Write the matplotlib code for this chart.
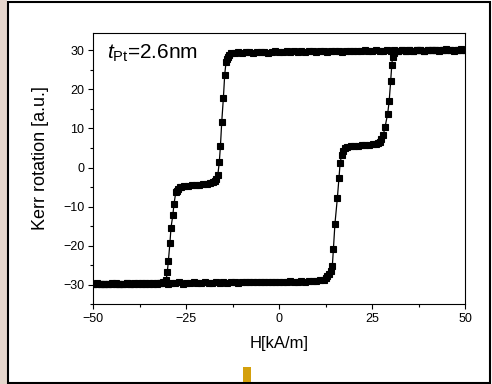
import numpy as np
import matplotlib.pyplot as plt
from matplotlib.patches import Rectangle
from matplotlib.ticker import MultipleLocator

plt.rcParams['font.family'] = ['Liberation Sans', 'DejaVu Sans']
plt.rcParams['mathtext.fontset'] = 'custom'
plt.rcParams['mathtext.rm'] = 'Liberation Sans'
plt.rcParams['mathtext.it'] = 'Liberation Sans:italic'

# descending branch (field swept from +50 to -50 kA/m)
h_down = [50, 49, 48, 47, 46, 45, 44, 43, 42, 41,
          40, 39, 38, 37, 36, 35, 34, 33, 32, 31,
          30, 29, 28, 27, 26, 25, 24, 23, 22, 21,
          20, 19, 18, 17, 16, 15, 14, 13, 12, 11,
          10, 9, 8, 7, 6, 5, 4, 3, 2, 1,
          0, -1, -2, -3, -4, -5, -6, -7, -8, -9,
          -10, -11, -12, -13, -13.5, -13.8, -14.0, -14.3, -14.65, -15.0,
          -15.45, -15.8, -16.1, -16.5, -16.9, -17.3, -17.8, -18.5, -19.5, -20.5,
          -21.5, -22.5, -23.5, -24.5, -25.5, -26.3, -26.8, -27.2, -27.5, -27.8,
          -28.3, -28.6, -29.1, -29.4, -29.8, -30.1, -30.4, -30.8, -31.3, -32,
          -33, -34, -35, -36, -37, -38, -39, -40, -41, -42,
          -43, -44, -45, -46, -47, -48, -49, -50]
kerr_down = [30.2, 30.0, 30.1, 29.9, 30.2, 30.0, 30.1, 29.9, 30.0, 30.2,
             30.0, 29.9, 30.1, 30.0, 29.8, 30.1, 29.9, 30.0, 29.8, 30.0,
             29.9, 30.1, 29.8, 29.9, 30.0, 29.7, 29.9, 30.0, 29.8, 29.9,
             29.7, 29.9, 29.8, 29.6, 29.9, 29.7, 29.8, 29.6, 29.8, 29.7,
             29.6, 29.8, 29.7, 29.5, 29.8, 29.6, 29.7, 29.5, 29.7, 29.6,
             29.5, 29.7, 29.6, 29.4, 29.6, 29.5, 29.6, 29.4, 29.5, 29.6,
             29.4, 29.5, 29.3, 29.2, 28.8, 28.3, 27.7, 26.9, 23.8, 17.9,
             11.7, 5.5, 1.5, -1.9, -2.9, -3.4, -3.8, -4.0, -4.2, -4.3,
             -4.5, -4.4, -4.6, -4.7, -4.8, -4.9, -5.1, -5.5, -5.9, -6.2,
             -9.4, -12.1, -15.4, -19.4, -23.8, -26.8, -28.7, -29.2, -29.4, -29.5,
             -29.5, -29.7, -29.6, -29.8, -29.5, -29.7, -29.6, -29.8, -29.6, -29.7,
             -29.9, -29.6, -29.8, -29.7, -29.9, -29.7, -29.8, -29.9]

# ascending branch (field swept from -50 to +50 kA/m)
h_up = [-50, -49, -48, -47, -46, -45, -44, -43, -42, -41,
        -40, -39, -38, -37, -36, -35, -34, -33, -32, -31,
        -30, -29, -28, -27, -26, -25, -24, -23, -22, -21,
        -20, -19, -18, -17, -16, -15, -14, -13, -12, -11,
        -10, -9, -8, -7, -6, -5, -4, -3, -2, -1,
        0, 1, 2, 3, 4, 5, 6, 7, 8, 9,
        10, 11, 12, 12.5, 13.0, 13.5, 13.9, 14.3, 14.6, 15.0,
        15.65, 16.1, 16.4, 16.8, 17.2, 17.7, 18.3, 19.2, 20.2, 21.2,
        22.2, 23.2, 24.2, 25.2, 26.0, 26.6, 27.1, 27.5, 28.0, 28.5,
        29.2, 29.6, 30.0, 30.3, 30.5, 30.8, 31.3, 32, 33, 34,
        35, 36, 37, 38, 39, 40, 41, 42, 43, 44,
        45, 46, 47, 48, 49, 50]
kerr_up = [-29.8, -29.6, -29.9, -29.7, -29.8, -29.6, -29.9, -29.7, -29.8, -29.6,
           -29.7, -29.8, -29.6, -29.7, -29.5, -29.8, -29.6, -29.7, -29.5, -29.6,
           -29.7, -29.5, -29.6, -29.4, -29.7, -29.5, -29.6, -29.4, -29.6, -29.5,
           -29.4, -29.6, -29.5, -29.3, -29.5, -29.4, -29.5, -29.3, -29.4, -29.5,
           -29.3, -29.4, -29.2, -29.4, -29.3, -29.4, -29.2, -29.3, -29.4, -29.2,
           -29.3, -29.2, -29.3, -29.1, -29.3, -29.2, -29.1, -29.2, -29.0, -29.1,
           -29.0, -28.9, -28.7, -28.3, -27.8, -27.2, -26.5, -25.3, -20.8, -14.5,
           -7.9, -2.6, 1.1, 3.2, 4.3, 5.0, 5.3, 5.4, 5.6, 5.5,
           5.7, 5.8, 5.8, 6.0, 6.1, 6.3, 6.6, 7.2, 8.3, 10.4,
           13.8, 17.0, 22.1, 26.2, 28.3, 29.3, 29.7, 29.8, 30.0, 29.9,
           30.1, 29.9, 30.0, 30.2, 29.9, 30.1, 30.0, 30.2, 30.0, 30.1,
           30.3, 30.0, 30.2, 30.1, 30.3, 30.1]

x_ticks = [-50, -25, 0, 25, 50]
y_ticks = [-30, -20, -10, 0, 10, 20, 30]

fig = plt.figure(figsize=(4.92, 3.84), dpi=100)
ax = fig.add_axes([0.1897, 0.2076, 0.7554, 0.7072])

for h, k in [(h_down, kerr_down), (h_up, kerr_up)]:
    ax.plot(h, k, color='black', lw=0.9, marker='s', ms=3.9,
            markeredgewidth=0.8, markerfacecolor='black', markeredgecolor='black')

ax.set_xlim(-50, 50)
ax.set_ylim(-35, 34.5)
ax.set_xticks(x_ticks)
ax.set_yticks(y_ticks)
ax.xaxis.set_minor_locator(MultipleLocator(12.5))
ax.yaxis.set_minor_locator(MultipleLocator(5))
ax.tick_params(which='both', direction='out', top=False, right=False,
               labelsize=9, width=0.8, pad=3)
ax.tick_params(which='major', length=3.5)
ax.tick_params(which='minor', length=2.2)
for sp in ax.spines.values():
    sp.set_linewidth(0.8)

ax.set_xlabel('H[kA/m]', fontsize=12, labelpad=8)
ax.set_ylabel('Kerr rotation [a.u.]', fontsize=13)
ax.yaxis.set_label_coords(-0.118, 0.54)
ax.text(0.037, 0.965, r'$t_{\mathrm{Pt}}$=2.6nm', transform=ax.transAxes,
        fontsize=15, va='top', ha='left')

# slide frame around the picture
fig.patches.append(Rectangle((0, 0), 0.015, 1, transform=fig.transFigure,
                             facecolor='#e6d6cc', edgecolor='none', zorder=-2))
fig.patches.append(Rectangle((0.0163, 0.0026), 0.9797, 0.9922, transform=fig.transFigure,
                             facecolor='none', edgecolor='black', lw=1.5, zorder=5))
fig.patches.append(Rectangle((0.4945, 0.0052), 0.0151, 0.0383, transform=fig.transFigure,
                             facecolor='#d4a00c', edgecolor='none', zorder=6))

fig.savefig('out.png', dpi=100)
